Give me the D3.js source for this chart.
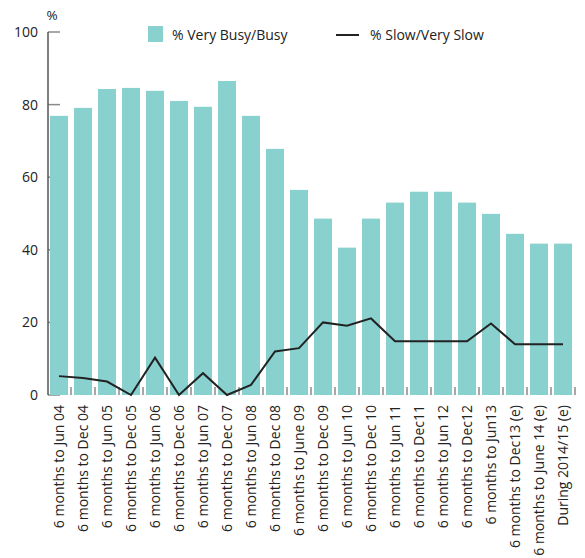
<!DOCTYPE html>
<html><head><meta charset="utf-8">
<script src="https://cdn.jsdelivr.net/npm/d3@7"></script>
<style>body{margin:0;background:#fff}svg{display:block;font-family:"Open Sans","Noto Sans",sans-serif}</style>
</head><body><svg id="c" width="585" height="558"></svg>
<script>
const categories = ["6 months to Jun 04","6 months to Dec 04","6 months to Jun 05","6 months to Dec 05","6 months to Jun 06","6 months to Dec 06","6 months to Jun 07","6 months to Dec 07","6 months to Jun 08","6 months to Dec 08","6 months to June 09","6 months to Dec 09","6 months to Jun 10","6 months to Dec 10","6 months to Jun 11","6 months to Dec11","6 months to Jun 12","6 months to Dec12","6 months to Jun13","6 months to Dec13 (e)","6 months to June 14 (e)","During 2014/15 (e)"];
const busy = [76.9,79.1,84.3,84.6,83.8,81.0,79.4,86.5,76.9,67.8,56.5,48.6,40.6,48.6,53.0,56.0,56.0,53.0,49.9,44.4,41.7,41.7];
const slow = [5.2,4.7,3.7,0,10.3,0,6.0,0,2.8,12.0,12.9,20.0,19.1,21.1,14.8,14.8,14.8,14.8,19.7,14.0,14.0,14.0];
const yTicks = [0,20,40,60,80,100];
const legendLabels = ["% Very Busy/Busy","% Slow/Very Slow"];

const svg = d3.select("#c");
const x = d3.scaleBand().domain(categories).range([47,575]).paddingInner(0.25).paddingOuter(0.125);
const y = d3.scaleLinear().domain([0,100]).range([395,32]);
const teal = "#88d1cf";

// y ticks
const yg = svg.append("g");
yg.selectAll("line.t").data(yTicks).join("line")
  .attr("x1",48).attr("x2",60).attr("y1",d=>y(d)).attr("y2",d=>y(d))
  .attr("stroke","#8a8a8a").attr("stroke-width",1.5);
yg.selectAll("text").data(yTicks).join("text")
  .attr("x",38).attr("y",d=>y(d)).attr("dy","0.35em").attr("text-anchor","end")
  .attr("font-size",14).attr("fill","#222").text(d=>d);
svg.append("text").attr("x",52).attr("y",20).attr("text-anchor","middle")
  .attr("font-size",13.5).attr("fill","#222").text("%");

// x boundary ticks
const bounds = categories.slice(1).map(c=>x(c)-x.step()*x.paddingInner()/2).concat([x.range()[1]]);
svg.append("g").selectAll("line").data(bounds).join("line")
  .attr("x1",d=>d).attr("x2",d=>d).attr("y1",387).attr("y2",395)
  .attr("stroke","#8a8a8a").attr("stroke-width",1.5);

// bars
svg.append("g").selectAll("rect").data(busy).join("rect")
  .attr("x",(d,i)=>x(categories[i])).attr("width",x.bandwidth())
  .attr("y",d=>y(d)).attr("height",d=>y(0)-y(d)).attr("fill",teal);

// y axis line
svg.append("line").attr("x1",48).attr("x2",48).attr("y1",y(100)).attr("y2",y(0))
  .attr("stroke","#555").attr("stroke-width",1.5);

// line
const line = d3.line().x((d,i)=>x(categories[i])+x.bandwidth()/2).y(d=>y(d));
svg.append("path").datum(slow).attr("d",line).attr("fill","none")
  .attr("stroke","#222").attr("stroke-width",2).attr("stroke-linejoin","miter");

// x labels
svg.append("g").selectAll("text").data(categories).join("text")
  .attr("transform",d=>`translate(${x(d)+x.bandwidth()/2},405) rotate(-90)`)
  .attr("text-anchor","end").attr("dy","0.35em")
  .attr("font-size",14).attr("fill","#222").text(d=>d);

// legend
svg.append("rect").attr("x",148).attr("y",26).attr("width",15).attr("height",16).attr("fill",teal);
svg.append("text").attr("x",172).attr("y",35).attr("dy","0.35em").attr("font-size",14).attr("fill","#222").text(legendLabels[0]);
svg.append("line").attr("x1",336).attr("x2",359).attr("y1",35).attr("y2",35).attr("stroke","#222").attr("stroke-width",2);
svg.append("text").attr("x",370).attr("y",35).attr("dy","0.35em").attr("font-size",14).attr("fill","#222").text(legendLabels[1]);
</script></body></html>
